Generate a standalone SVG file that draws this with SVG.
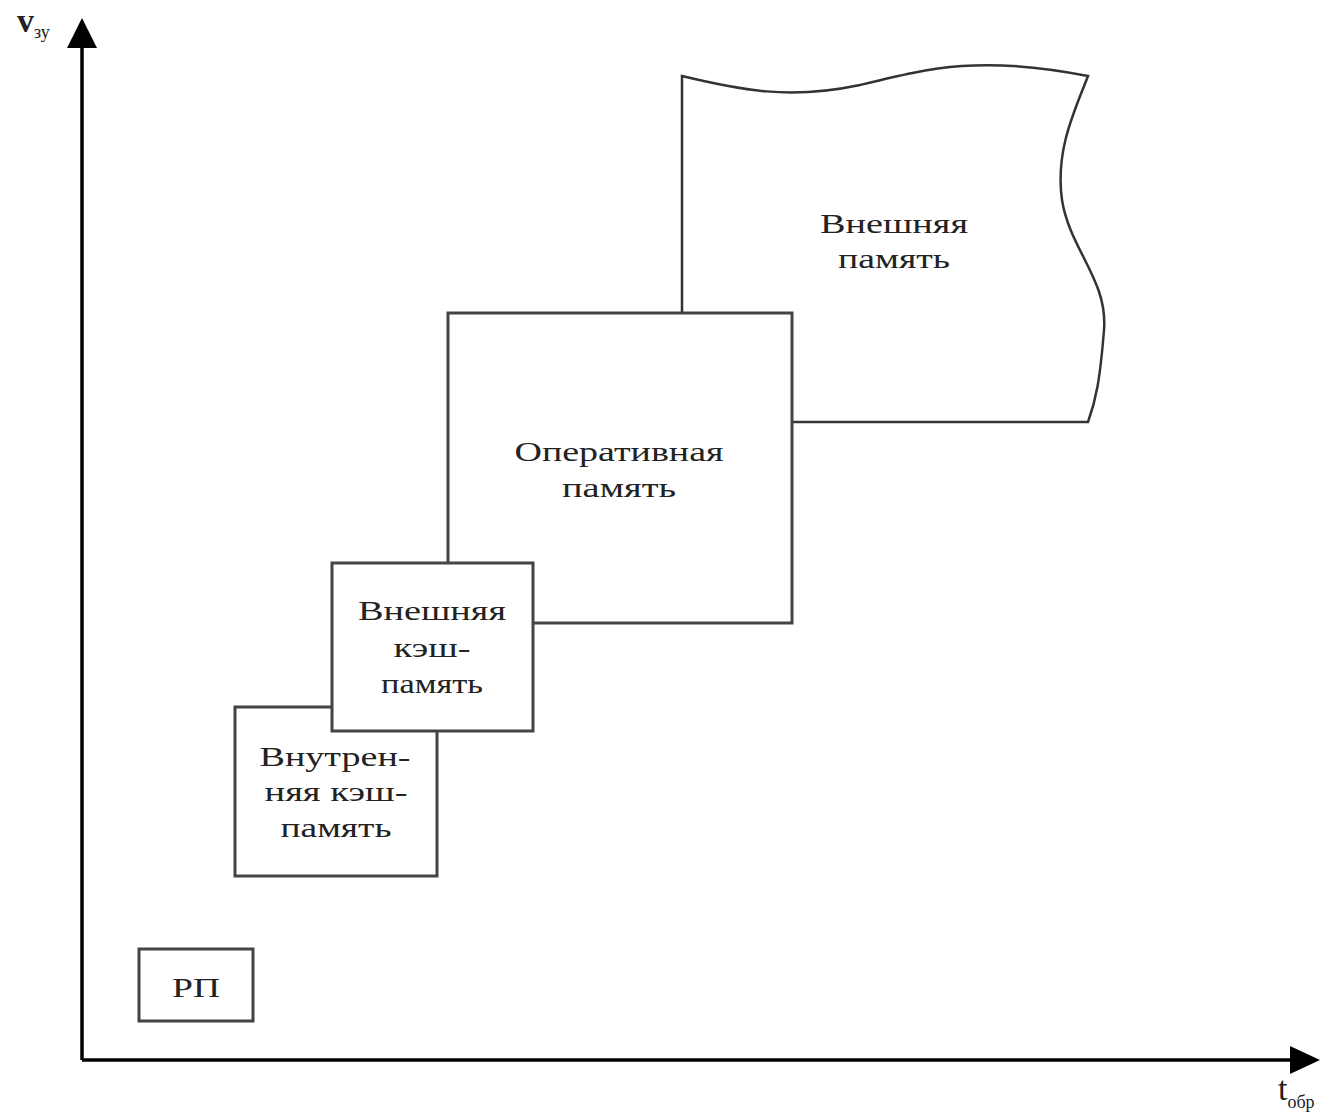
<svg xmlns="http://www.w3.org/2000/svg" width="1320" height="1112" viewBox="0 0 1320 1112">
<style>
.box{fill:#fff;stroke:#444;stroke-width:3}
.ln{fill:none;stroke:#333;stroke-width:2.5}
.t{font-family:"Liberation Serif","Times New Roman",serif;font-size:28px;fill:#222;text-anchor:middle}
.ax{stroke:#000;stroke-width:3.5;fill:none}
</style>
<rect width="1320" height="1112" fill="#fff"/>
<g id="axes">
<line class="ax" x1="82" y1="1060" x2="1292" y2="1060"/>
<line class="ax" x1="82" y1="1060" x2="82" y2="46"/>
<path d="M82,18 L97,48 L67,48 Z" fill="#000"/>
<path d="M1320,1060 L1290,1046 L1290,1074 Z" fill="#000"/>
<text x="17" y="32" style="font-family:'Liberation Serif',serif;font-size:34px;font-weight:bold;fill:#222">v<tspan font-size="18" font-weight="normal" dy="6">зу</tspan></text>
<text x="1278" y="1100" style="font-family:'Liberation Serif',serif;font-size:34px;fill:#222">t<tspan font-size="18" dy="8">обр</tspan></text>
</g>
<g id="external-memory">
<path class="ln" d="M682,312 L682,76 C740,90 790,100 860,85 C930,68 980,55 1088,76 C1075,110 1055,150 1062,200 C1070,250 1108,280 1104,330 C1100,380 1096,400 1088,422 L792,422" fill="#fff"/>
<text class="t" x="894" y="233" textLength="148" lengthAdjust="spacingAndGlyphs">Внешняя</text>
<text class="t" x="894" y="268" textLength="112" lengthAdjust="spacingAndGlyphs">память</text>
</g>
<g id="ram">
<rect class="box" x="448" y="313" width="344" height="310"/>
<text class="t" x="619" y="461" textLength="209" lengthAdjust="spacingAndGlyphs">Оперативная</text>
<text class="t" x="619" y="497" textLength="114" lengthAdjust="spacingAndGlyphs">память</text>
</g>
<g id="internal-cache">
<rect class="box" x="235" y="707" width="202" height="169"/>
<text class="t" x="335" y="766" textLength="151" lengthAdjust="spacingAndGlyphs">Внутрен-</text>
<text class="t" x="336" y="801" textLength="143" lengthAdjust="spacingAndGlyphs">няя кэш-</text>
<text class="t" x="336" y="837" textLength="111" lengthAdjust="spacingAndGlyphs">память</text>
</g>
<g id="external-cache">
<rect class="box" x="332" y="563" width="201" height="168"/>
<text class="t" x="432" y="620" textLength="148" lengthAdjust="spacingAndGlyphs">Внешняя</text>
<text class="t" x="432" y="657" textLength="77" lengthAdjust="spacingAndGlyphs">кэш-</text>
<text class="t" x="432" y="693" textLength="102" lengthAdjust="spacingAndGlyphs">память</text>
</g>
<g id="rp">
<rect class="box" x="139" y="949" width="114" height="72"/>
<text class="t" x="196" y="997" textLength="48" lengthAdjust="spacingAndGlyphs">РП</text>
</g>
</svg>
